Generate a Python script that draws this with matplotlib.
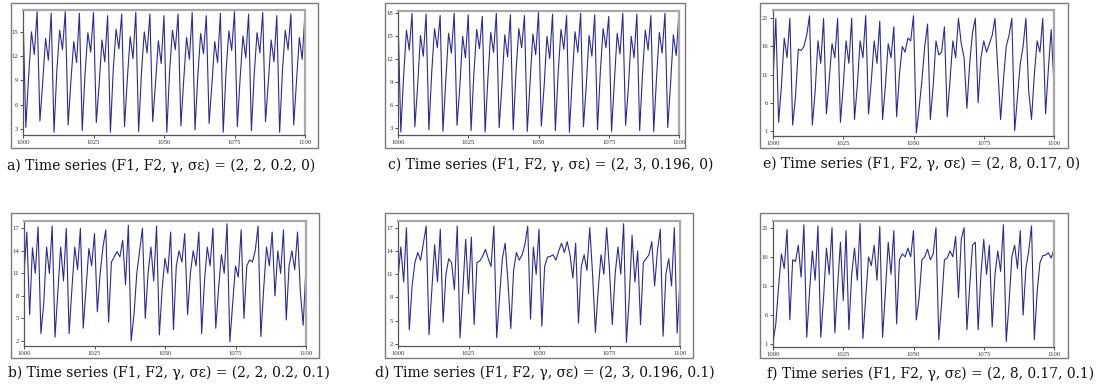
import matplotlib
matplotlib.use("Agg")
import matplotlib.pyplot as plt
from matplotlib.patches import Rectangle
import numpy as np

W, H = 1099, 389

# time axis shared by all six series
t = np.arange(1000, 1101)

# (F1, F2, gamma, sigma_eps) = (2, 2, 0.2, 0)
series_a = [
    17.3, 3.2, 9.5, 15.0, 12.2, 17.5, 4.0, 8.8, 14.2, 11.5,
    17.3, 2.6, 10.2, 15.2, 12.8, 17.5, 3.5, 9.0, 13.8, 11.2,
    17.3, 2.8, 9.8, 14.9, 12.5, 17.4, 3.8, 8.5, 14.0, 11.3,
    17.0, 2.6, 10.3, 15.3, 12.9, 17.2, 3.3, 9.2, 14.4, 11.7,
    17.4, 2.7, 9.9, 15.0, 12.4, 17.2, 3.9, 8.7, 13.9, 11.1,
    17.0, 2.6, 10.2, 15.2, 12.8, 17.2, 3.4, 9.1, 14.3, 11.6,
    17.4, 2.9, 9.6, 14.8, 12.3, 17.0, 3.7, 8.6, 13.8, 11.2,
    17.3, 2.6, 10.1, 15.1, 12.7, 17.5, 3.3, 9.3, 14.5, 11.8,
    17.2, 2.8, 9.8, 14.9, 12.4, 17.4, 3.9, 8.8, 14.0, 11.3,
    17.0, 2.6, 10.2, 15.2, 12.8, 17.2, 3.5, 9.0, 14.3, 11.6,
    17.3,
]

# (2, 2, 0.2, 0.1)
series_b = [
    11.0, 16.5, 5.5, 14.4, 11.0, 17.2, 3.0, 7.0, 14.5, 11.0,
    17.3, 2.5, 8.5, 14.5, 10.0, 17.0, 3.0, 9.0, 14.5, 11.5,
    17.0, 3.7, 9.0, 14.3, 12.0, 16.3, 5.9, 11.0, 14.5, 16.8,
    4.5, 12.5, 13.2, 13.9, 13.2, 15.4, 9.5, 17.4, 2.0, 5.5,
    11.0, 14.0, 17.0, 5.0, 11.0, 14.5, 10.0, 17.3, 2.8, 9.0,
    13.0, 11.0, 16.5, 3.5, 12.0, 14.0, 12.5, 16.3, 5.5, 11.0,
    14.0, 12.0, 16.5, 3.0, 10.0, 14.5, 12.0, 17.0, 3.7, 9.0,
    13.5, 11.0, 17.6, 1.9, 7.0, 12.0, 10.5, 16.8, 5.0, 12.0,
    12.8, 12.5, 14.0, 17.3, 2.6, 9.0, 14.5, 12.0, 16.5, 8.0,
    14.0, 11.0, 16.8, 4.8, 12.0, 14.0, 11.5, 16.5, 8.5, 4.1,
    11.9,
]

# (2, 3, 0.196, 0)
series_c = [
    17.8, 2.5, 9.8, 15.8, 13.2, 18.0, 3.2, 8.6, 15.1, 12.4,
    17.9, 2.8, 10.3, 16.0, 13.5, 17.7, 2.6, 9.2, 15.4, 12.8,
    18.0, 3.4, 8.4, 15.0, 12.2, 17.8, 2.7, 10.1, 15.9, 13.4,
    17.6, 2.5, 9.5, 15.5, 12.9, 18.0, 3.1, 8.7, 15.2, 12.3,
    17.8, 2.8, 10.4, 16.0, 13.5, 17.7, 2.6, 9.0, 15.3, 12.6,
    18.1, 3.3, 8.5, 15.0, 12.1, 17.9, 2.7, 10.2, 15.9, 13.3,
    17.7, 2.5, 9.4, 15.6, 12.9, 18.0, 3.2, 8.6, 15.1, 12.4,
    17.8, 2.8, 10.3, 16.0, 13.5, 17.6, 2.6, 9.1, 15.4, 12.7,
    18.0, 3.4, 8.4, 15.0, 12.2, 17.9, 2.7, 10.0, 15.8, 13.2,
    17.7, 2.6, 9.6, 15.5, 12.8, 18.0, 3.1, 8.8, 15.2, 12.5,
    18.1,
]

# (2, 3, 0.196, 0.1)
series_d = [
    10.5, 14.5, 10.0, 17.0, 3.8, 9.5, 12.5, 13.8, 12.8, 15.0,
    17.2, 3.2, 9.0, 14.8, 10.0, 16.8, 4.8, 11.0, 13.0, 12.5,
    9.0, 17.2, 2.8, 9.0, 15.5, 8.5, 15.8, 4.5, 12.5, 12.7,
    13.3, 14.2, 13.0, 12.0, 17.2, 2.8, 8.0, 13.0, 15.0, 10.0,
    4.0, 11.5, 13.8, 12.8, 13.5, 14.8, 17.2, 5.2, 14.5, 11.0,
    16.8, 4.3, 12.0, 13.2, 13.3, 13.5, 12.8, 14.0, 15.0, 13.8,
    15.2, 13.5, 10.5, 15.0, 4.7, 12.0, 13.5, 11.5, 17.0, 11.0,
    3.5, 9.0, 13.5, 11.0, 17.0, 11.5, 4.5, 11.0, 14.5, 11.0,
    17.5, 2.2, 8.0, 16.0, 10.0, 14.0, 4.5, 12.5, 13.0, 13.5,
    15.2, 9.5, 14.0, 16.8, 3.0, 11.0, 13.0, 9.5, 17.0, 3.4,
    10.3,
]

# (2, 8, 0.17, 0)
series_e = [
    10.0, 21.0, 2.5, 9.0, 17.5, 14.0, 21.0, 2.0, 7.0, 15.5,
    15.3, 16.0, 18.0, 21.5, 2.0, 8.0, 17.0, 13.0, 21.0, 4.0,
    10.0, 16.5, 14.0, 21.0, 2.5, 9.0, 17.0, 13.0, 21.0, 3.0,
    9.0, 17.0, 14.0, 21.5, 4.0, 10.0, 17.0, 13.0, 20.5, 3.0,
    9.0, 16.5, 14.0, 19.5, 3.5, 11.0, 16.0, 15.0, 17.5, 17.0,
    21.5, 0.6, 5.0, 10.0, 16.0, 20.0, 3.0, 9.0, 17.0, 14.5,
    15.0, 19.5, 3.5, 10.0, 17.0, 14.0, 21.0, 16.5, 14.0, 5.0,
    13.0, 18.5, 21.0, 6.0, 14.0, 17.0, 15.0, 16.5, 18.0, 21.0,
    12.0, 3.0, 10.0, 16.0, 18.0, 21.0, 1.0, 7.0, 13.0, 16.0,
    21.0, 8.0, 3.0, 11.0, 17.0, 15.0, 21.0, 4.0, 12.0, 19.0,
    9.0,
]

# (2, 8, 0.17, 0.1)
series_f = [
    1.3, 4.5, 11.0, 16.5, 14.0, 20.7, 5.2, 15.5, 15.2, 18.0,
    12.5, 21.5, 2.2, 10.0, 17.0, 12.0, 21.3, 2.2, 9.0, 17.5,
    13.0, 21.0, 3.0, 11.0, 18.5, 8.5, 20.5, 3.5, 13.0, 17.5,
    12.0, 21.7, 2.0, 9.0, 16.0, 14.5, 18.0, 12.0, 21.2, 2.2,
    10.0, 18.5, 13.0, 20.5, 4.5, 15.5, 16.5, 16.0, 17.5, 16.0,
    20.5, 5.2, 9.0, 15.5, 16.0, 17.3, 15.5, 16.5, 21.0, 1.8,
    8.0, 15.5, 15.8, 17.0, 16.0, 19.5, 9.0, 19.0, 21.0, 3.5,
    11.0, 18.0, 18.5, 3.5, 13.0, 19.0, 13.0, 18.0, 4.0, 13.0,
    17.0, 13.5, 21.5, 1.5, 8.0, 16.0, 18.0, 14.0, 20.5, 6.0,
    14.0, 17.0, 21.3, 1.8, 10.0, 15.0, 16.2, 16.3, 16.7, 15.8,
    17.3,
]

captions = [
    "a) Time series (F1, F2, \u03b3, \u03c3\u03b5) = (2, 2, 0.2, 0)",
    "b) Time series (F1, F2, \u03b3, \u03c3\u03b5) = (2, 2, 0.2, 0.1)",
    "c) Time series (F1, F2, \u03b3, \u03c3\u03b5) = (2, 3, 0.196, 0)",
    "d) Time series (F1, F2, \u03b3, \u03c3\u03b5) = (2, 3, 0.196, 0.1)",
    "e) Time series (F1, F2, \u03b3, \u03c3\u03b5) = (2, 8, 0.17, 0)",
    "f) Time series (F1, F2, \u03b3, \u03c3\u03b5) = (2, 8, 0.17, 0.1)",
]
yticks = [
    [3, 6, 9, 12, 15],
    [2, 5, 8, 11, 14, 17],
    [3, 6, 9, 12, 15, 18],
    [2, 5, 8, 11, 14, 17],
    [1, 6, 11, 16, 21],
    [1, 6, 11, 16, 21],
]
xticks = [1000, 1025, 1050, 1075, 1100]

# panel layout in pixels: axes box, outer frame, caption anchor
layout = [
    dict(ax=(23, 10, 305, 135), frame=(11, 3, 318, 148), cap=(7, 166), ylim=(2.26, 17.7)),
    dict(ax=(24, 221, 306, 346), frame=(11, 213, 319, 358), cap=(8, 373), ylim=(1.33, 17.97)),
    dict(ax=(398, 11, 679, 135), frame=(385, 3, 685, 148), cap=(388, 165), ylim=(2.13, 18.3)),
    dict(ax=(398, 221, 680, 346), frame=(385, 213, 693, 358), cap=(375, 373), ylim=(1.74, 17.86)),
    dict(ax=(773, 10, 1054, 136), frame=(760, 3, 1068, 148), cap=(763, 164), ylim=(0.06, 22.5)),
    dict(ax=(773, 221, 1054, 347), frame=(760, 213, 1068, 358), cap=(767, 374), ylim=(0.54, 22.15)),
]
all_series = [series_a, series_b, series_c, series_d, series_e, series_f]
for s in all_series:
    assert len(s) == len(t)


def box(x0, y0, x1, y1):
    return [x0 / W, 1 - y1 / H, (x1 - x0) / W, (y1 - y0) / H]


fig = plt.figure(figsize=(W / 100, H / 100), dpi=100)
fig.patch.set_facecolor("white")

for s, cap, yt, lay in zip(all_series, captions, yticks, layout):
    fx = box(*lay["frame"])
    fig.add_artist(Rectangle((fx[0], fx[1]), fx[2], fx[3], transform=fig.transFigure,
                             fill=False, edgecolor="#7a7a7a", linewidth=1.0))

    ax = fig.add_axes(box(*lay["ax"]))
    ax.plot(t, s, color="#2a2a98", linewidth=0.8)
    ax.set_xlim(1000, 1100)
    ax.set_ylim(*lay["ylim"])
    ax.set_xticks(xticks)
    ax.set_yticks(yt)
    ax.tick_params(labelsize=4.8, length=2, width=0.6, pad=1.5, colors="#333333")
    for lab in ax.get_xticklabels() + ax.get_yticklabels():
        lab.set_family("Liberation Serif")
    for side in ("left", "bottom"):
        ax.spines[side].set_color("#555555")
        ax.spines[side].set_linewidth(0.9)
    for side in ("top", "right"):
        ax.spines[side].set_color("#a8a8a8")
        ax.spines[side].set_linewidth(1.6)

    fig.text(lay["cap"][0] / W, 1 - lay["cap"][1] / H, cap, ha="left", va="center",
             fontsize=10, family="DejaVu Serif", color="#111111")

fig.savefig("out.png", dpi=100)
